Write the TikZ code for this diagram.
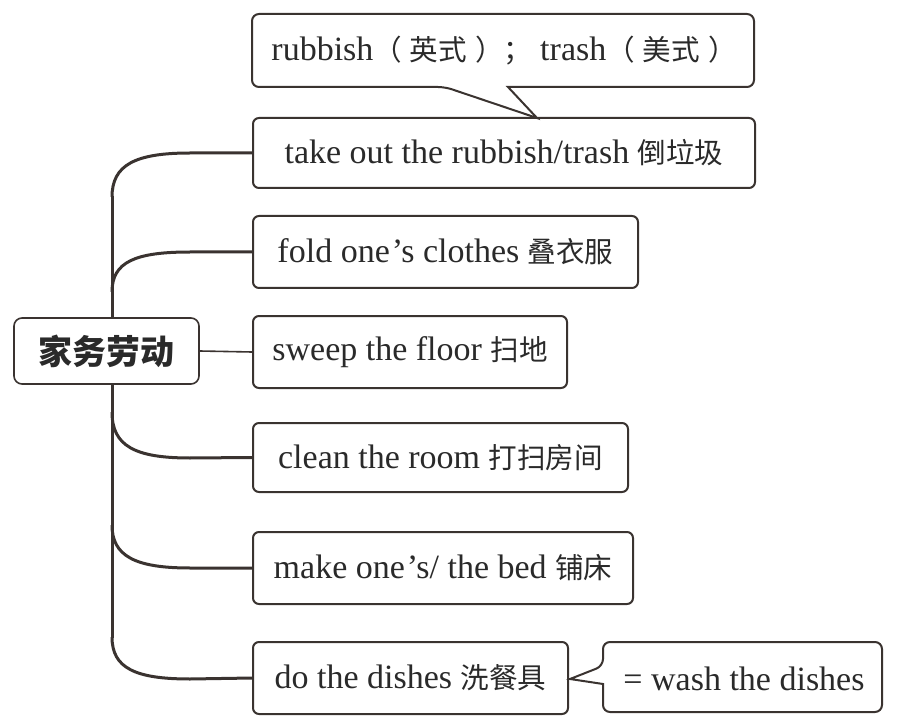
\documentclass[tikz,border=0pt]{standalone}
\usepackage{fontspec}
\setmainfont{Liberation Serif}
\newfontfamily\cjk[Scale=0.84]{Noto Sans CJK SC}
\newfontfamily\cjkroot{Noto Sans CJK SC}
\definecolor{lc}{HTML}{3A3330}
\definecolor{tc}{HTML}{2A2A2A}
\begin{document}
\begin{tikzpicture}[x=1pt,y=-1pt,
  item/.style={draw=lc, line width=2pt, rounded corners=6pt, fill=white, inner sep=0pt,
    text=tc, font=\fontsize{34}{38}\selectfont},
  br/.style={draw=lc, line width=3pt},
  thinline/.style={draw=lc, line width=1.6pt},
  callout/.style={draw=lc, line width=2pt, fill=white, line join=miter}]
\useasboundingbox (0,0) rectangle (902,727);
% bracket
\draw[br] (112,196) -- (112,638);
% nodes
\node[item, minimum width=502pt, minimum height=70pt] (take) at (504,153) {take out the rubbish/trash {\cjk 倒垃圾}};
\node[item, minimum width=385pt, minimum height=72pt] (fold) at (445.5,252) {fold one\kern2pt’s clothes {\cjk 叠衣服}};
\node[item, minimum width=314pt, minimum height=72pt] (sweep) at (410,352) {sweep the floor {\cjk 扫地}};
\node[item, minimum width=375pt, minimum height=69pt] (clean) at (440.5,457.5) {clean the room {\cjk 打扫房间}};
\node[item, minimum width=380pt, minimum height=72pt] (make) at (443,568) {make one\kern2pt’s/ the bed {\cjk 铺床}};
\node[item, minimum width=315pt, minimum height=72pt] (dish) at (410.5,678) {do the dishes {\cjk 洗餐具}};
\node[item, line width=1.6pt, rounded corners=8pt, minimum width=185pt, minimum height=66pt,
  font=\fontsize{34}{38}\cjkroot\bfseries] (root) at (106.5,351) {家务劳动};
% branches
\draw[br] (112,197) .. controls (112,165) and (135,153) .. (190,153) -- (take.west);
\draw[br] (112,292) .. controls (112,262) and (135,252) .. (190,252) -- (fold.west);
\draw[thinline] (root.east) -- (sweep.west);
\draw[br] (112,412) .. controls (112,446) and (135,458) .. (190,458) -- (clean.west);
\draw[br] (112,525) .. controls (112,556) and (135,568) .. (190,568) -- (make.west);
\draw[br] (112,637) .. controls (112,668) and (135,679) .. (190,679) -- (dish.west);
% top callout
\draw[callout] (508,87) [rounded corners=7pt] -- (754,87) -- (754,14) -- (252,14) -- (252,87) -- (445,87) [sharp corners] -- (537,118) -- cycle;
\node[text=tc, font=\fontsize{34}{38}\selectfont, inner sep=0pt] (note) at (504,51) {rubbish{\cjk （\kern8pt 英式\kern8pt ）；\kern8pt}trash{\cjk （\kern8pt 美式\kern8pt ）}};
% wash callout
\draw[callout] (603,684) [rounded corners=7pt] -- (603,712) -- (882,712) -- (882,642) -- (603,642) -- (603,666) [sharp corners] -- (570,679) -- cycle;
\node[text=tc, font=\fontsize{34}{38}\selectfont, inner sep=0pt] (wash) at (744,679) {= wash the dishes};
\end{tikzpicture}
\end{document}
